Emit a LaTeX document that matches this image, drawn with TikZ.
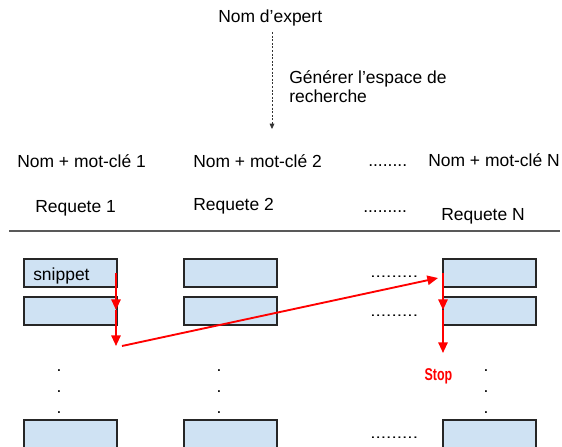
\documentclass[tikz,border=0pt]{standalone}
\usepackage{fontspec}
\setmainfont{Liberation Sans}
\newfontfamily\stopfont[FakeStretch=0.73]{Liberation Sans}
\usepackage{tikz}
\usetikzlibrary{arrows.meta}
\definecolor{boxblue}{HTML}{CFE2F3}
\definecolor{stopred}{HTML}{FF0000}

\tikzset{
  txt/.style={font=\fontsize{13.1}{15.7}\selectfont, inner sep=0pt, anchor=base west},
  snip/.style={draw=black!85, line width=0.8pt, fill=boxblue, minimum width=69.75pt, minimum height=21pt, inner sep=0pt},
  vdot/.style={font=\fontsize{13.1}{15.7}\selectfont, inner sep=0pt, anchor=base},
  hdots/.style={txt, font=\fontsize{11}{13}\selectfont, xscale=1.3},
  redarrow/.style={draw=stopred, line width=1.4pt, -{Triangle[length=8pt,width=7pt]}},
  dasharrow/.style={draw=black!80, line width=0.6pt, dash pattern=on 1.5pt off 1.2pt, -{Triangle[length=4pt,width=3.5pt]}}
}

\begin{document}
\begin{tikzpicture}[x=0.75pt,y=-0.75pt]
\useasboundingbox (0,0) rectangle (562,447);

% expert et espace de recherche
\node[txt] (expert) at (218,22) {Nom d’expert};
\coordinate (ga) at (272,32);
\coordinate (gb) at (272,129);
\draw[dasharrow] (ga) -- (gb);
\node[txt] (gen1) at (289,83) {Générer l’espace de};
\node[txt] (gen2) at (289,102) {recherche};

% mots-cles et requetes
\node[txt] (kw1) at (17,167) {Nom + mot-clé 1};
\node[txt] (kw2) at (193,167) {Nom + mot-clé 2};
\node[txt] (kwdots) at (368,166) {........};
\node[txt] (kwN) at (428,166) {Nom + mot-clé N};
\node[txt] (req1) at (35,212) {Requete 1};
\node[txt] (req2) at (193,210) {Requete 2};
\node[txt] (reqdots) at (363,212) {.........};
\node[txt] (reqN) at (441,220) {Requete N};

\coordinate (ra) at (9,231);
\coordinate (rb) at (560,231);
\draw[black!65, line width=1.1pt] (ra) -- (rb);

% snippets
\node[snip] (b11) at (70.5,273) {};
\node[snip] (b12) at (70.5,311) {};
\node[snip] (b13) at (70.5,434) {};
\node[snip] (b21) at (230.5,273) {};
\node[snip] (b22) at (230.5,311) {};
\node[snip] (b23) at (230.5,434) {};
\node[snip] (b31) at (489.5,273) {};
\node[snip] (b32) at (489.5,311) {};
\node[snip] (b33) at (489.5,434) {};
\node[txt] (snippet) at (33,280) {snippet};

\node[hdots] (hd1) at (370,277) {.........};
\node[hdots] (hd2) at (370,316) {.........};
\node[hdots] (hd3) at (370,438) {.........};

\foreach \c/\x in {1/59,2/219,3/486}
  \foreach \r/\y in {1/371,2/392,3/413}
    \node[vdot] (d\c\r) at (\x,\y) {.};

% parcours
\coordinate (p1) at (116,273);
\coordinate (p2) at (116,310);
\coordinate (p3) at (116,346);
\coordinate (q1) at (122,346);
\coordinate (q2) at (438,278);
\coordinate (p5) at (443,273);
\coordinate (p6) at (443,310);
\coordinate (p7) at (443,353);
\draw[redarrow] (p1) -- (p2);
\draw[redarrow] (p2) -- (p3);
\draw[redarrow] (q1) -- (q2);
\draw[redarrow] (p5) -- (p6);
\draw[redarrow] (p6) -- (p7);
\node[txt, anchor=base, text=stopred, font=\stopfont\bfseries\fontsize{12.8}{15}\selectfont] (stop) at (438.5,380) {Stop};
\end{tikzpicture}
\end{document}
